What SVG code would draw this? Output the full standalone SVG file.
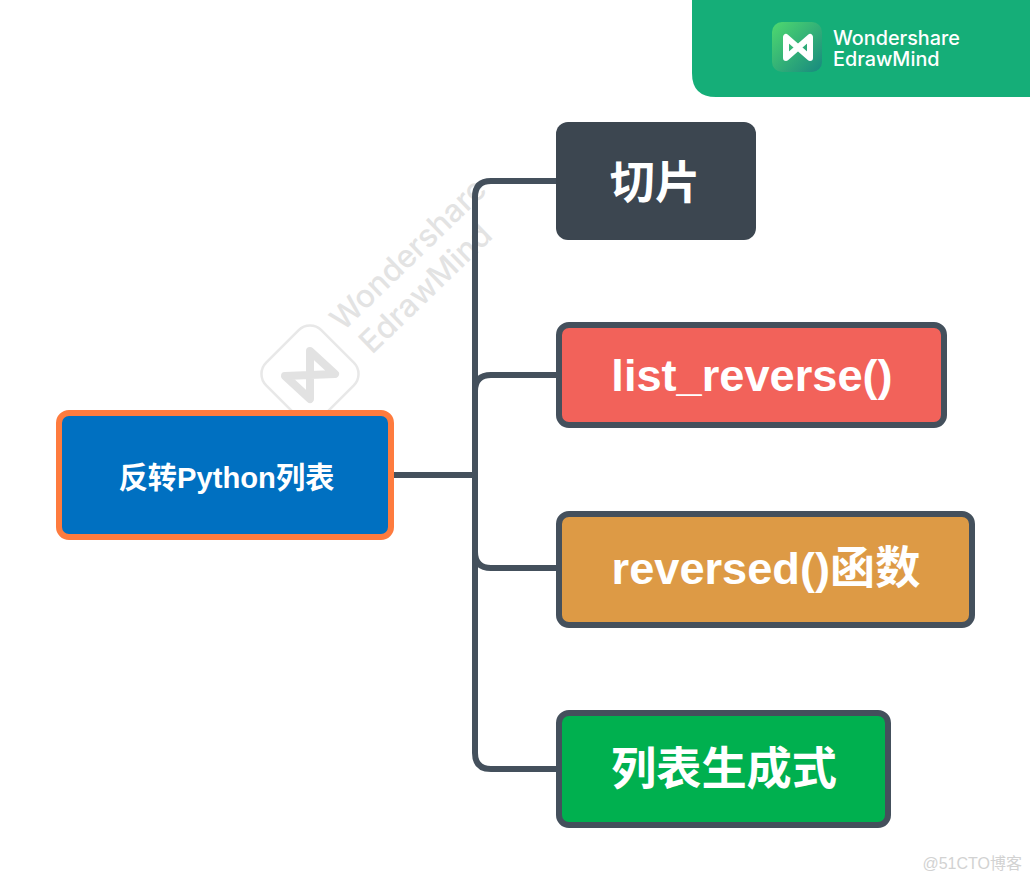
<svg xmlns="http://www.w3.org/2000/svg" width="1030" height="882" viewBox="0 0 1030 882">
<style>
.t{font-family:"Liberation Sans","Noto Sans CJK SC",sans-serif;font-weight:700;fill:#fff}
.n{font-size:45.2px}
.c{fill:none;stroke:#44505c;stroke-width:6}
.s{stroke:#44505c;stroke-width:6}
.wm{font-family:"Inter","Liberation Sans",sans-serif;font-size:31.5px;font-weight:500;fill:#e3e3e3}
</style>
<defs><linearGradient id="g" x1="0" y1="0" x2="1" y2="1"><stop offset="0" stop-color="#4fd96f"/><stop offset="1" stop-color="#17897f"/></linearGradient></defs>
<rect width="1030" height="882" fill="#fff"/>
<g id="badge">
<path d="M692 0H1030V97H716Q692 97 692 73Z" fill="#15ae78"/>
<rect x="772" y="22" width="50" height="50" rx="10" fill="url(#g)"/>
<path d="M786 37L786 58L810 37L810 58Z" fill="none" stroke="#fff" stroke-width="6" stroke-linejoin="round"/>
<text x="833" y="45" font-family="Inter,'Liberation Sans',sans-serif" font-size="19.8" font-weight="500" fill="#fff">Wondershare</text>
<text x="833" y="66" font-family="Inter,'Liberation Sans',sans-serif" font-size="19.8" font-weight="500" fill="#fff">EdrawMind</text>
</g>
<g id="watermark">
<rect x="271" y="335" width="78" height="78" rx="16" transform="rotate(45 310 374)" fill="none" stroke="#e8e8e8" stroke-width="2.5"/>
<path d="M310 351L335 374L285 376L310 399Z" fill="none" stroke="#e2e2e2" stroke-width="8" stroke-linejoin="round"/>
<text class="wm" transform="translate(343 332) rotate(-44)">Wondershare</text>
<text class="wm" transform="translate(372 355) rotate(-44)">EdrawMind</text>
</g>
<g id="connectors">
<path class="c" d="M394 475H475"/>
<path class="c" d="M556 181H491Q475 181 475 197V753Q475 769 491 769H556"/>
<path class="c" d="M556 375H491Q475 375 475 391"/>
<path class="c" d="M475 552Q475 568 491 568H556"/>
</g>
<g id="root">
<rect x="59" y="413" width="332" height="124" rx="10" fill="#0070c1" stroke="#fe7b3e" stroke-width="6"/>
<text class="t" x="226.500" y="488" font-size="29.200" text-anchor="middle">反转Python列表</text>
</g>
<g id="node1">
<rect x="556" y="122" width="200" height="118" rx="12" fill="#3c4650"/>
<text class="t n" x="655" y="199" text-anchor="middle">切片</text>
</g>
<g id="node2">
<rect x="559" y="325" width="385" height="100" rx="10" fill="#f2625a" class="s"/>
<text class="t n" x="752" y="391" text-anchor="middle">list_reverse()</text>
</g>
<g id="node3">
<rect x="559" y="514" width="413" height="111" rx="10" fill="#dd9a45" class="s"/>
<text class="t n" x="766" y="584" text-anchor="middle">reversed()函数</text>
</g>
<g id="node4">
<rect x="559" y="713" width="329" height="112" rx="10" fill="#00b04f" class="s"/>
<text class="t n" x="724" y="785" text-anchor="middle">列表生成式</text>
</g>
<text x="1022" y="869" text-anchor="end" font-family="'Liberation Sans','Noto Sans CJK SC',sans-serif" font-size="16" fill="#d2d2d2">@51CTO博客</text>
</svg>
